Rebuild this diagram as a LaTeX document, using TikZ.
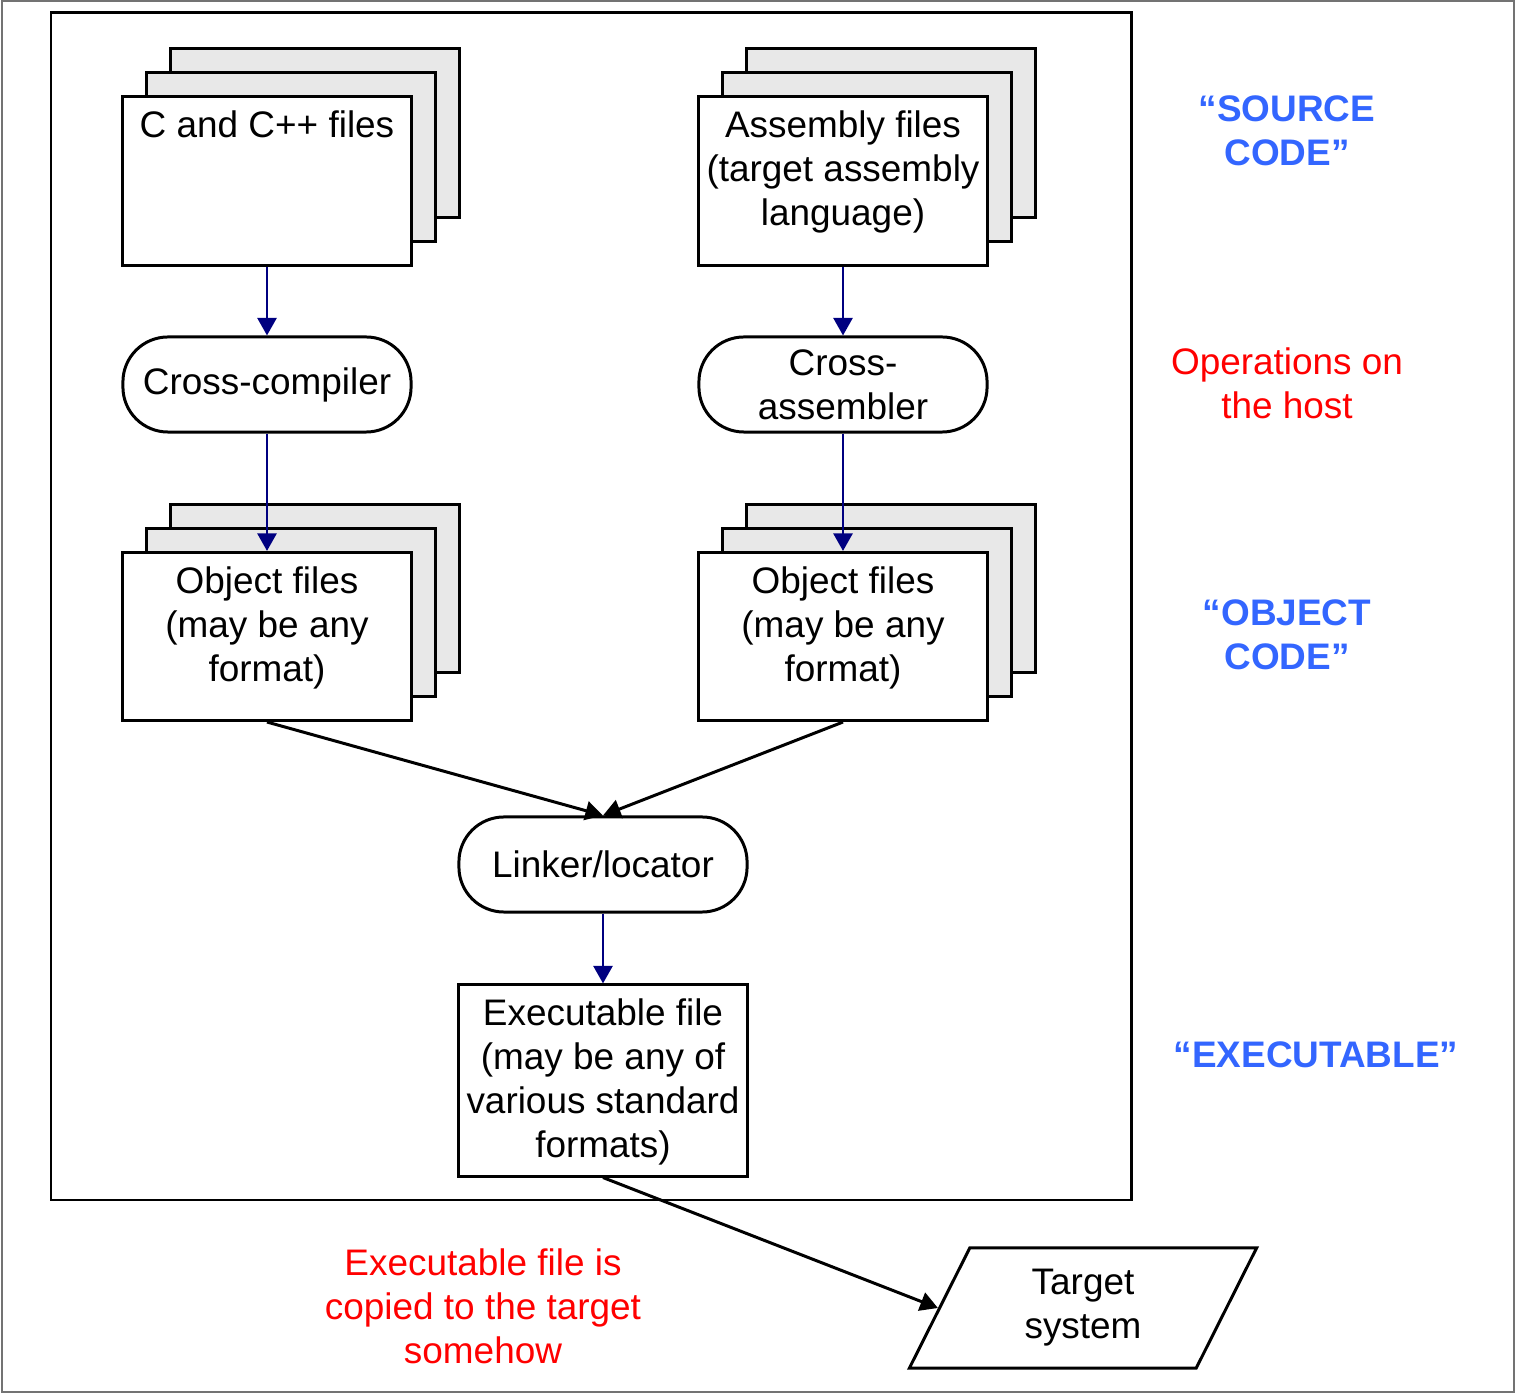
\documentclass[tikz,border=0pt]{standalone}
\usepackage{fontspec}
\setmainfont{Liberation Sans}
\usetikzlibrary{arrows.meta, shapes.geometric, shadows}
\definecolor{navy}{RGB}{0,0,128}
\definecolor{stageblue}{RGB}{51,102,255}
\definecolor{notered}{RGB}{255,0,0}
% text of a box, pinned to its top edge
\newcommand{\toptext}[2]{\parbox[t][#1][t]{2.84cm}{\centering #2}}

\begin{document}
\begin{tikzpicture}[
        x=0.01cm, y=-0.01cm,
        >={Triangle[length=5pt,width=5.4pt]},
        every node/.style={font=\fontsize{10.5}{12.5}\selectfont},
        plainbox/.style={draw, line width=0.85pt, fill=white, minimum width=2.88cm, inner xsep=0pt, inner ysep=0.14cm},
        filebox/.style={plainbox, minimum height=1.68cm,
            general shadow={fill=black!9, draw, line width=0.85pt, shadow xshift=0.48cm, shadow yshift=0.48cm},
            general shadow={fill=black!9, draw, line width=0.85pt, shadow xshift=0.24cm, shadow yshift=0.24cm}},
        procbox/.style={draw, line width=0.85pt, rounded corners=0.45cm, minimum width=2.88cm, minimum height=0.95cm, align=center, inner sep=2pt},
        targetbox/.style={draw, line width=0.85pt, trapezium, trapezium left angle=59, trapezium right angle=121, trapezium stretches body=true, minimum width=3.47cm, minimum height=1.2cm, align=center},
        stage/.style={text=stageblue, font=\fontsize{10.5}{12.5}\selectfont\bfseries, align=center},
        note/.style={text=notered, align=center},
        flow/.style={->, navy, line width=0.8pt},
        link/.style={->, line width=0.85pt}
    ]
    \useasboundingbox (0,0) rectangle (1515,1395);
    \draw[black!55, line width=0.4pt] (2,1) rectangle (1514,1392);

    % --- Host frame ---
    \draw[line width=0.85pt] (51,13) rectangle (1131,1200);

    % --- Source files ---
    \node[filebox] (cfiles) at (267,181) {\toptext{1.40cm}{C and C++ files}};
    \node[filebox] (asmfiles) at (843,181) {\toptext{1.40cm}{Assembly files\\(target assembly\\language)}};

    % --- Translators ---
    \node[procbox] (ccomp) at (267,384.5) {Cross-compiler};
    \node[procbox] (asm) at (843,384.5) {Cross-\\assembler};

    % --- Object files ---
    \node[filebox] (cobj) at (267,636.5) {\toptext{1.40cm}{Object files\\(may be any\\format)}};
    \node[filebox] (asmobj) at (843,636.5) {\toptext{1.40cm}{Object files\\(may be any\\format)}};

    % --- Link and output ---
    \node[procbox] (linker) at (603,864.5) {Linker/locator};
    \node[plainbox] (exec) at (603,1080.5) {\toptext{1.63cm}{Executable file\\(may be any of\\various standard\\formats)}};
    \node[targetbox] (target) at (1083,1308) {Target\\system};

    % --- Arrows ---
    \draw[flow] (cfiles.south) -- (ccomp.north);
    \draw[flow] (ccomp.south) -- (cobj.north);
    \draw[flow] (asmfiles.south) -- (asm.north);
    \draw[flow] (asm.south) -- (asmobj.north);
    \draw[link] (cobj.south) -- (linker.north);
    \draw[link] (asmobj.south) -- (linker.north);
    \draw[flow] (linker.south) -- (exec.north);
    \draw[link] (exec.south) -- (target.west);

    % --- Side labels ---
    \node[stage] (srclabel) at (1287,130.5) {“SOURCE\\CODE”};
    \node[note] (hostlabel) at (1287,383.5) {Operations on\\the host};
    \node[stage] (objlabel) at (1287,634.5) {“OBJECT\\CODE”};
    \node[stage] (exelabel) at (1316,1055) {“EXECUTABLE”};
    \node[note] (copylabel) at (483,1306.5) {Executable file is\\copied to the target\\somehow};
\end{tikzpicture}
\end{document}
